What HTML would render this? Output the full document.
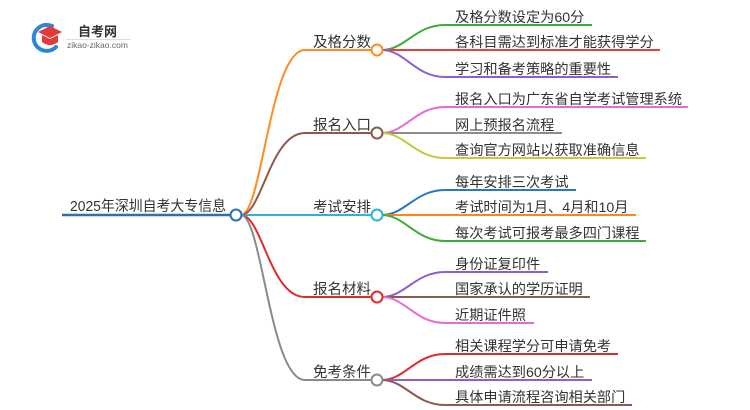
<!DOCTYPE html>
<html>
<head>
<meta charset="utf-8">
<style>
  html,body{margin:0;padding:0;background:#fff;}
  svg{display:block;}
  text{font-family:"Liberation Sans","Noto Sans CJK SC",sans-serif;fill:#333;}
</style>
</head>
<body>
<svg width="750" height="410" viewBox="0 0 750 410" xmlns="http://www.w3.org/2000/svg">
  <!-- logo -->
  <g>
    <path d="M52 26 A13 13 0 1 0 56 47" fill="none" stroke="#2a86d6" stroke-width="4" stroke-linecap="round"/>
    <path d="M38 32 L50 26 L62 32 L50 38 Z" fill="#e23a3a"/>
    <path d="M42 35 L42 42 Q50 48 58 42 L58 35 L50 39 Z" fill="#e23a3a"/>
    <text x="78" y="36" font-size="13" font-weight="bold" fill="#333">自考网</text>
    <line x1="66" y1="39.5" x2="131" y2="39.5" stroke="#ddd" stroke-width="1"/>
    <text x="67" y="48" font-size="8.5" style="fill:#666">zikao-zikao.com</text>
  </g>

  <!-- root -->
  <line x1="62" y1="215" x2="231" y2="215" stroke="#2f6eb5" stroke-width="2.5"/>
  <text x="70" y="211" font-size="14.5" textLength="156" lengthAdjust="spacingAndGlyphs">2025年深圳自考大专信息</text>

  <!-- branches from root -->
  <path d="M241 215 C262 215,270 50,305 50 L372 50" fill="none" stroke="#ff8c20" stroke-width="2"/>
  <path d="M241 215 C262 215,270 133,305 133 L372 133" fill="none" stroke="#8b5a4c" stroke-width="2"/>
  <path d="M241 215 L372 215" fill="none" stroke="#2ab5d6" stroke-width="2"/>
  <path d="M241 215 C262 215,270 297,305 297 L372 297" fill="none" stroke="#e02b2b" stroke-width="2"/>
  <path d="M241 215 C262 215,270 380,305 380 L372 380" fill="none" stroke="#8a8a8a" stroke-width="2"/>

  <circle cx="236" cy="215" r="5.5" fill="#fff" stroke="#2f6eb5" stroke-width="2"/>

  <!-- branch labels -->
  <text x="313" y="47" font-size="14.5">及格分数</text>
  <text x="313" y="130" font-size="14.5">报名入口</text>
  <text x="313" y="212" font-size="14.5">考试安排</text>
  <text x="313" y="294" font-size="14.5">报名材料</text>
  <text x="313" y="377" font-size="14.5">免考条件</text>

  <!-- group 1 -->
  <path d="M382 50 C405 50,415 25,445 25 L592 25" fill="none" stroke="#3cac3c" stroke-width="2"/>
  <path d="M382 50 L660 50" fill="none" stroke="#e8413c" stroke-width="2"/>
  <path d="M382 50 C405 50,415 77,445 77 L618 77" fill="none" stroke="#8b5fd1" stroke-width="2"/>
  <text x="455" y="22" font-size="14.2">及格分数设定为60分</text>
  <text x="455" y="47" font-size="14.2">各科目需达到标准才能获得学分</text>
  <text x="455" y="74" font-size="14.2">学习和备考策略的重要性</text>

  <!-- group 2 -->
  <path d="M382 133 C405 133,415 107,445 107 L688 107" fill="none" stroke="#e86ccf" stroke-width="2"/>
  <path d="M382 133 L562 133" fill="none" stroke="#8c8c8c" stroke-width="2"/>
  <path d="M382 133 C405 133,415 158,445 158 L646 158" fill="none" stroke="#c9c83a" stroke-width="2"/>
  <text x="455" y="104" font-size="14.2">报名入口为广东省自学考试管理系统</text>
  <text x="455" y="130" font-size="14.2">网上预报名流程</text>
  <text x="455" y="155" font-size="14.2">查询官方网站以获取准确信息</text>

  <!-- group 3 -->
  <path d="M382 215 C405 215,415 190,445 190 L576 190" fill="none" stroke="#2b78c2" stroke-width="2"/>
  <path d="M382 215 L636 215" fill="none" stroke="#ff8519" stroke-width="2"/>
  <path d="M382 215 C405 215,415 241,445 241 L646 241" fill="none" stroke="#3cac3c" stroke-width="2"/>
  <text x="455" y="187" font-size="14.2">每年安排三次考试</text>
  <text x="455" y="212" font-size="14.2">考试时间为1月、4月和10月</text>
  <text x="455" y="238" font-size="14.2">每次考试可报考最多四门课程</text>

  <!-- group 4 -->
  <path d="M382 297 C405 297,415 272,445 272 L548 272" fill="none" stroke="#8b5fd1" stroke-width="2"/>
  <path d="M382 297 L590 297" fill="none" stroke="#8b5a50" stroke-width="2"/>
  <path d="M382 297 C405 297,415 323,445 323 L534 323" fill="none" stroke="#e86ccf" stroke-width="2"/>
  <text x="455" y="269" font-size="14.2">身份证复印件</text>
  <text x="455" y="294" font-size="14.2">国家承认的学历证明</text>
  <text x="455" y="320" font-size="14.2">近期证件照</text>

  <!-- group 5 -->
  <path d="M382 380 C405 380,415 354,445 354 L618 354" fill="none" stroke="#e02b2b" stroke-width="2"/>
  <path d="M382 380 L592 380" fill="none" stroke="#8b5fd1" stroke-width="2"/>
  <path d="M382 380 C405 380,415 405,445 405 L632 405" fill="none" stroke="#8b5a50" stroke-width="2"/>
  <text x="455" y="351" font-size="14.2">相关课程学分可申请免考</text>
  <text x="455" y="377" font-size="14.2">成绩需达到60分以上</text>
  <text x="455" y="402" font-size="14.2">具体申请流程咨询相关部门</text>

  <!-- branch circles -->
  <circle cx="377" cy="50" r="5.5" fill="#fff" stroke="#ff8c20" stroke-width="2"/>
  <circle cx="377" cy="133" r="5.5" fill="#fff" stroke="#8b5a4c" stroke-width="2"/>
  <circle cx="377" cy="215" r="5.5" fill="#fff" stroke="#2ab5d6" stroke-width="2"/>
  <circle cx="377" cy="297" r="5.5" fill="#fff" stroke="#e02b2b" stroke-width="2"/>
  <circle cx="377" cy="380" r="5.5" fill="#fff" stroke="#8a8a8a" stroke-width="2"/>
</svg>
</body>
</html>
